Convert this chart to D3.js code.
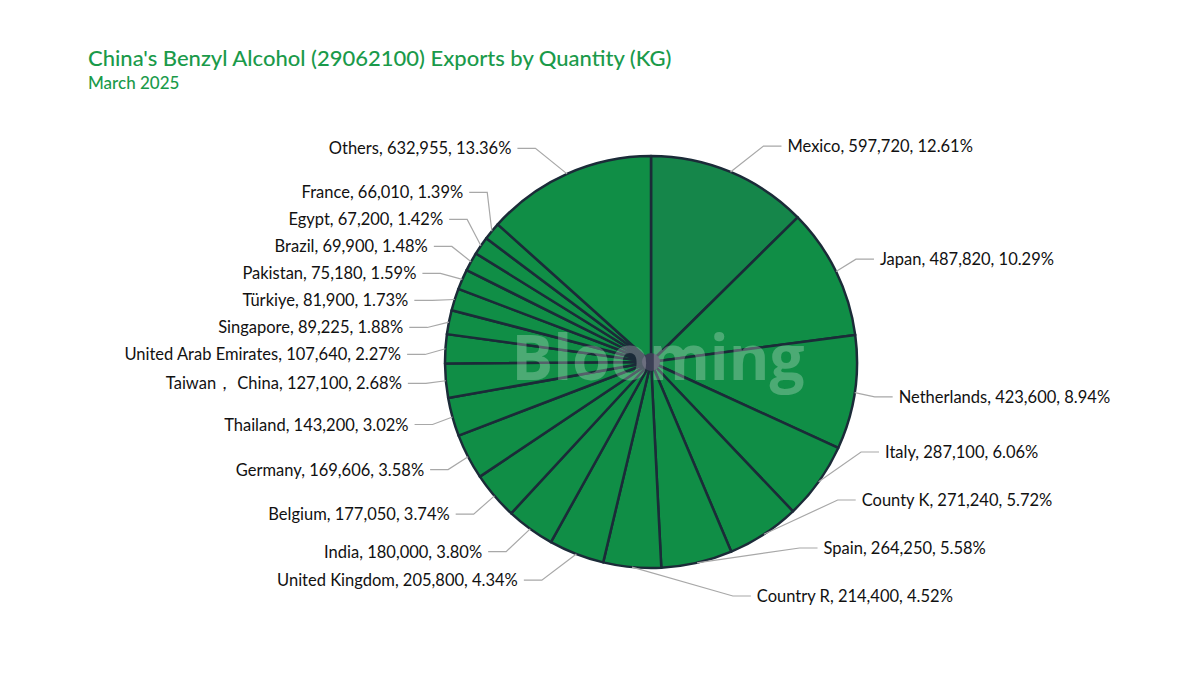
<!DOCTYPE html>
<html><head><meta charset="utf-8">
<script src="https://cdn.jsdelivr.net/npm/d3@7"></script>
<style>body{margin:0;background:#fff}</style>
</head><body>
<svg id="c" width="1200" height="675"></svg>
<script>
// data, clockwise from 12 o'clock
var countries = ["Mexico","Japan","Netherlands","Italy","County K","Spain","Country R","United Kingdom","India","Belgium","Germany","Thailand","Taiwan\uFF0C China","United Arab Emirates","Singapore","Türkiye","Pakistan","Brazil","Egypt","France","Others"];
var quantities = [597720,487820,423600,287100,271240,264250,214400,205800,180000,177050,169606,143200,127100,107640,89225,81900,75180,69900,67200,66010,632955];
var shares = ["12.61%","10.29%","8.94%","6.06%","5.72%","5.58%","4.52%","4.34%","3.80%","3.74%","3.58%","3.02%","2.68%","2.27%","1.88%","1.73%","1.59%","1.48%","1.42%","1.39%","13.36%"];

var svg = d3.select("#c");
var cx = 651, cy = 362, r = 206;
var fmt = d3.format(",");

svg.append("text").attr("x", 88).attr("y", 66).attr("fill", "#1a9a4a")
  .style("font", "500 22px Lato, sans-serif").text("China's Benzyl Alcohol (29062100) Exports by Quantity (KG)");
svg.append("text").attr("x", 88).attr("y", 89).attr("fill", "#1a9a4a")
  .style("font", "500 17px Lato, sans-serif").text("March 2025");

var data = countries.map(function(c, i){ return {name: c, q: quantities[i], p: shares[i]}; });
var arcs = d3.pie().sort(null).value(function(d){ return d.q; })(data);
var arc = d3.arc().innerRadius(0).outerRadius(r);
var g = svg.append("g").attr("transform", "translate(" + cx + "," + cy + ")");

g.selectAll("path").data(arcs).enter().append("path")
  .attr("d", arc)
  .attr("fill", function(d, i){ return i == 0 ? "#15864a" : "#108e46"; })
  .attr("stroke", "#1b2b38").attr("stroke-width", 2.5).attr("stroke-linejoin", "round");
g.append("circle").attr("r", 9).attr("fill", "#3b3f55");

svg.append("text").attr("x", 658).attr("y", 380).attr("text-anchor", "middle")
  .attr("fill", "#ffffff").attr("fill-opacity", 0.25)
  .style("font", "bold 62px 'Open Sans', sans-serif").text("Blooming");

// labels: ideal y from the slice middle, then pushed apart per side
var R2 = 262, maxY = r + 28;
var labs = arcs.map(function(d){
  var a = (d.startAngle + d.endAngle) / 2;
  return {d: d, a: a, right: a < Math.PI * 1.05, y: -Math.cos(a) * (r + 28)};
});
function relax(side, gap){
  side.sort(function(a, b){ return a.y - b.y; });
  for (var k = 0; k < 200; k++) {
    for (var i = 1; i < side.length; i++) {
      var o = side[i].y - side[i-1].y;
      if (o < gap) { side[i].y += (gap - o) / 2; side[i-1].y -= (gap - o) / 2; }
    }
    side.forEach(function(l){ l.y = Math.min(maxY, Math.max(-maxY - 10, l.y)); });
  }
}
relax(labs.filter(function(l){ return l.right; }), 48);
relax(labs.filter(function(l){ return !l.right; }), 27);

labs.forEach(function(l){
  var s = l.right ? 1 : -1;
  var px = Math.sin(l.a) * r, py = -Math.cos(l.a) * r;
  var dy = Math.max(-R2 + 5, Math.min(R2 - 5, l.y));
  var tx = s * (Math.sqrt(R2 * R2 - dy * dy) - 12);
  var ex = tx - s * 24;
  g.append("polyline")
    .attr("points", [[px, py], [ex, l.y], [tx - s * 6, l.y]].join(" "))
    .attr("fill", "none").attr("stroke", "#a8a8a8").attr("stroke-width", 1.2);
  g.append("text").attr("x", tx).attr("y", l.y + 6)
    .attr("text-anchor", l.right ? "start" : "end")
    .attr("fill", "#111").style("font", "16.5px Lato, sans-serif")
    .text(l.d.data.name + ", " + fmt(l.d.data.q) + ", " + l.d.data.p);
});
</script>
</body></html>
